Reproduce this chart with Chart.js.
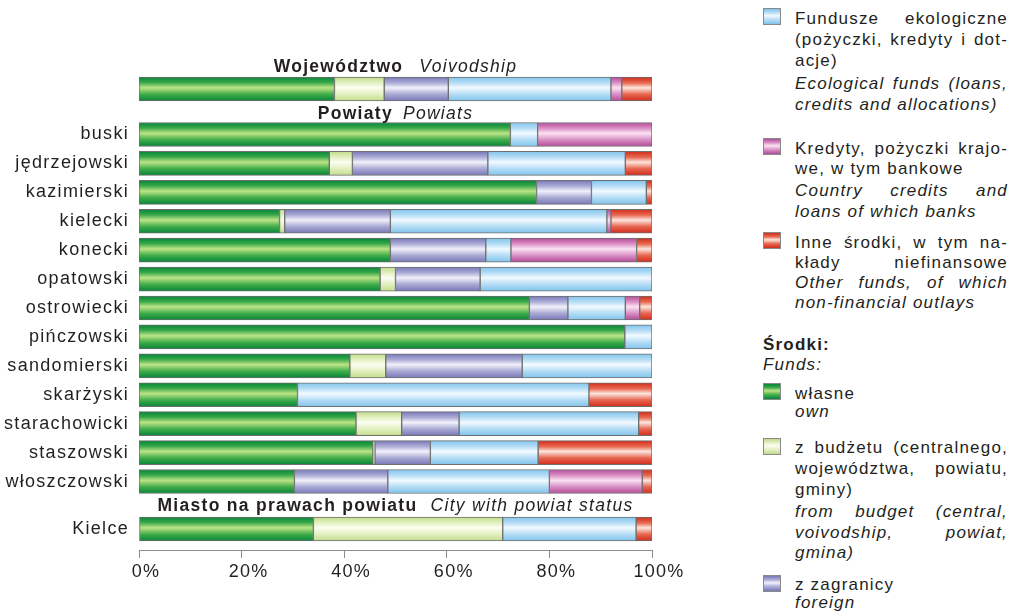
<!DOCTYPE html>
<html><head><meta charset="utf-8">
<script src="https://cdn.jsdelivr.net/npm/chart.js@4.4.1/dist/chart.umd.min.js"></script>
<style>
html,body{margin:0;padding:0;background:#fff;}
body{width:1012px;height:613px;position:relative;overflow:hidden;font-family:"Liberation Sans",Arial,sans-serif;color:#231f20;font-size:17px;letter-spacing:1.2px}
canvas{position:absolute;left:0;}
.sec{position:absolute;left:139px;width:513px;text-align:center;line-height:20px;white-space:nowrap;z-index:2;font-size:17.5px;letter-spacing:1.3px}
.sec b{margin-right:16px}
.ln{position:absolute;left:795px;width:213px;line-height:20px;height:20px;white-space:nowrap;overflow:visible}
.j{text-align:justify;text-align-last:justify;white-space:normal}
.it{font-style:italic}
.sw{position:absolute;left:763px;width:16px;height:15px;border:1px solid #8a8a8a;}
</style>
</head><body>
<canvas id="cA" width="700" height="28" style="top:75px"></canvas>
<canvas id="cB" width="700" height="376" style="top:120px"></canvas>
<canvas id="cC" width="700" height="82" style="top:508px"></canvas>

<div class="sec" style="top:56px"><b>Województwo</b><i>Voivodship</i></div>
<div class="sec" style="top:103px"><b style="margin-right:10px">Powiaty</b><i>Powiats</i></div>
<div class="sec" style="top:495px"><b style="margin-right:13px">Miasto na prawach powiatu</b><i>City with powiat status</i></div>

<div id="legend"></div>

<script>
// ---- data ----
const seriesNames = ['własne', 'z budżetu', 'z zagranicy', 'Fundusze ekologiczne', 'Kredyty, pożyczki krajowe', 'Inne środki'];
const regionLabels = [''];
const regionOwn = [38.1], regionBudget = [9.7], regionForeign = [12.5], regionEco = [31.7], regionCredits = [2.1], regionOther = [5.9];

const powiaty = ['buski','jędrzejowski','kazimierski','kielecki','konecki','opatowski','ostrowiecki','pińczowski','sandomierski','skarżyski','starachowicki','staszowski','włoszczowski'];
const own     = [72.4, 37.1, 77.5, 27.4, 49.0, 47.0, 76.1, 94.7, 41.1, 30.9, 42.3, 45.6, 30.3];
const budget  = [0,    4.5,  0,    1.0,  0,    3.0,  0,    0,    7.0,  0,    8.9,  0.4,  0];
const foreign = [0,    26.4, 10.7, 20.6, 18.6, 16.5, 7.5,  0,    26.6, 0,    11.2, 10.8, 18.2];
const eco     = [5.3,  26.8, 10.7, 42.2, 4.9,  33.5, 11.2, 5.3,  25.3, 56.8, 35.0, 21.0, 31.5];
const credits = [22.3, 0,    0,    0.8,  24.5, 0,    2.8,  0,    0,    0,    0,    0,    18.1];
const other   = [0,    5.2,  1.1,  8.0,  3.0,  0,    2.4,  0,    0,    12.3, 2.6,  22.2, 1.9];

const cityLabels = ['Kielce'];
const cityOwn = [34.0], cityBudget = [36.9], cityForeign = [0], cityEco = [26.0], cityCredits = [0], cityOther = [3.1];

const xTicks = [0, 20, 40, 60, 80, 100];

// ---- styling ----
const TEXT = '#231f20';
const BAR = 24;
const FONT = {family: '"Liberation Sans", Arial, sans-serif', size: 18};
const gradStops = [
  [['#07843a',0],['#34a647',0.22],['#bde487',0.45],['#41ad4a',0.72],['#07843a',1]],
  [['#c2dc8c',0],['#e4f1c2',0.25],['#fbfdf2',0.45],['#e2efbf',0.72],['#c2dc8c',1]],
  [['#7878b8',0],['#aeaed8',0.25],['#f1f1fb',0.45],['#a9a9d4',0.72],['#7878b8',1]],
  [['#80c4ec',0],['#b8def6',0.25],['#f2faff',0.45],['#b4dcf5',0.72],['#80c4ec',1]],
  [['#b44a98',0],['#dc93c8',0.25],['#fbe2f2',0.45],['#d98fc5',0.72],['#b44a98',1]],
  [['#d02c1c',0],['#e96a52',0.25],['#fde6de',0.45],['#e76650',0.72],['#d02c1c',1]]
];
function gradFill(k) {
  return (c) => {
    const ch = c.chart, y = ch.scales.y;
    const fallback = gradStops[k][2][0];
    if (!y || c.dataIndex === undefined) return fallback;
    const yc = y.getPixelForValue(c.dataIndex);
    if (!isFinite(yc)) return fallback;
    const g = ch.ctx.createLinearGradient(0, yc - BAR/2, 0, yc + BAR/2);
    gradStops[k].forEach(s => g.addColorStop(s[1], s[0]));
    return g;
  };
}
function ds(arrs) {
  return arrs.map((a, k) => ({
    label: seriesNames[k],
    data: a.map(v => v || null),
    backgroundColor: gradFill(k),
    borderColor: '#6f6f6f',
    borderWidth: 1,
    borderSkipped: false,
    barThickness: BAR
  }));
}
const spacing = {id:'spacing', beforeDraw(ch){ ch.ctx.letterSpacing = '1.3px'; }};
function noPad(s) { s.paddingTop = 0; s.paddingBottom = 0; s.paddingLeft = 0; s.paddingRight = 0; }

function makeChart(id, labels, datasets, showX) {
  return new Chart(document.getElementById(id), {
    type: 'bar',
    data: {labels, datasets},
    plugins: [spacing],
    options: {
      indexAxis: 'y',
      responsive: false,
      animation: false,
      layout: {autoPadding: false, padding: {left: 0, right: 48, top: 0, bottom: 0}},
      plugins: {legend: {display: false}, tooltip: {enabled: false}},
      scales: {
        x: {
          stacked: true, min: 0, max: 100, display: showX,
          afterBuildTicks: s => { s.ticks = xTicks.map(v => ({value: v})); },
          ticks: {callback: v => v + '%', color: TEXT, font: FONT, labelOffset: 7, padding: 3, maxRotation: 0, autoSkip: false},
          grid: {drawOnChartArea: false, drawTicks: true, tickLength: 8, color: '#8c8c8c'},
          border: {display: true, color: '#8c8c8c'},
          afterFit: s => { s.height = showX ? 40 : 0; noPad(s); }
        },
        y: {
          stacked: true,
          ticks: {color: TEXT, font: FONT, padding: 10, autoSkip: false},
          grid: {display: false, drawTicks: false},
          border: {display: false},
          afterFit: s => { s.width = 139; noPad(s); }
        }
      }
    }
  });
}
makeChart('cA', regionLabels, ds([regionOwn, regionBudget, regionForeign, regionEco, regionCredits, regionOther]), false);
makeChart('cB', powiaty, ds([own, budget, foreign, eco, credits, other]), false);
makeChart('cC', cityLabels, ds([cityOwn, cityBudget, cityForeign, cityEco, cityCredits, cityOther]), true);

// ---- legend (HTML) ----
function css(k) {
  return 'linear-gradient(to bottom,' + gradStops[k].map(s => s[0] + ' ' + (s[1]*100) + '%').join(',') + ')';
}
const legendSwatches = [[3, 8], [4, 138], [5, 232], [0, 383], [1, 438], [2, 575]];
const legendLines = [
  ['Fundusze ekologiczne', 19, 'j'], ['(pożyczki, kredyty i dot-', 40, 'j'], ['acje)', 61, ''],
  ['Ecological funds (loans,', 84, 'j it'], ['credits and allocations)', 105, 'it'],
  ['Kredyty, pożyczki krajo-', 149, 'j'], ['we, w tym bankowe', 169, ''],
  ['Country credits and', 191, 'j it'], ['loans of which banks', 212, 'it'],
  ['Inne środki, w tym na-', 243, 'j'], ['kłady niefinansowe', 263, 'j'],
  ['Other funds, of which', 283, 'j it'], ['non-financial outlays', 303, 'it'],
  ['własne', 394, ''], ['own', 412, 'it'],
  ['z budżetu (centralnego,', 448, 'j'], ['województwa, powiatu,', 469, 'j'], ['gminy)', 490, ''],
  ['from budget (central,', 512, 'j it'], ['voivodship, powiat,', 533, 'j it'], ['gmina)', 553, 'it'],
  ['z zagranicy', 585, ''], ['foreign', 603, 'it']
];
const lg = document.getElementById('legend');
legendSwatches.forEach(([k, top]) => {
  const d = document.createElement('div');
  d.className = 'sw'; d.style.top = top + 'px'; d.style.background = css(k);
  lg.appendChild(d);
});
legendLines.forEach(([t, cy, cls]) => {
  const d = document.createElement('div');
  d.className = 'ln ' + cls; d.style.top = (cy - 10) + 'px'; d.textContent = t;
  lg.appendChild(d);
});
const h1 = document.createElement('div');
h1.className = 'ln'; h1.style.left = '763px'; h1.style.top = '335px'; h1.style.fontWeight = 'bold'; h1.textContent = 'Środki:';
const h2 = document.createElement('div');
h2.className = 'ln it'; h2.style.left = '763px'; h2.style.top = '355px'; h2.textContent = 'Funds:';
lg.appendChild(h1); lg.appendChild(h2);
</script>
</body></html>
